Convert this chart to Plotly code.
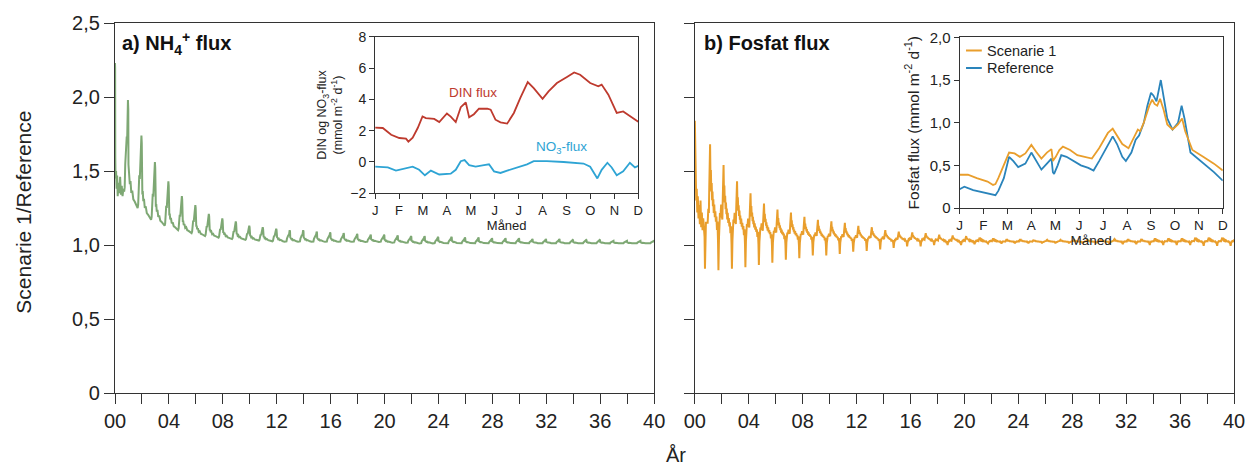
import numpy as np
import plotly.graph_objects as go

# ---------------- data ----------------
# Main panel a: NH4+ ratio (Scenarie 1 / Reference), yearly spike peak and base level
nh4_peak = [1.98, 1.74, 1.56, 1.43, 1.33, 1.27, 1.21, 1.18, 1.16, 1.13,
            1.12, 1.11, 1.10, 1.10, 1.09, 1.085, 1.08, 1.075, 1.07, 1.07,
            1.065, 1.06, 1.06, 1.055, 1.055, 1.05, 1.05, 1.045, 1.045, 1.045,
            1.04, 1.04, 1.04, 1.035, 1.035, 1.035, 1.03, 1.03, 1.03, 1.03]
nh4_base = [1.36, 1.25, 1.17, 1.13, 1.10, 1.08, 1.06, 1.05, 1.04, 1.035,
            1.03, 1.025, 1.02, 1.02, 1.02, 1.02, 1.02, 1.02, 1.02, 1.02,
            1.015, 1.015, 1.01, 1.01, 1.01, 1.01, 1.01, 1.01, 1.01, 1.01,
            1.01, 1.01, 1.01, 1.01, 1.01, 1.01, 1.01, 1.01, 1.01, 1.01]
# first-year values (start-up transient)
nh4_y0_t = [0.0, 0.01, 0.02, 0.04, 0.08, 0.12, 0.16, 0.20, 0.26, 0.32, 0.38, 0.44, 0.50, 0.56, 0.62, 0.68]
nh4_y0_v = [2.23, 2.2, 1.6, 1.45, 1.5, 1.38, 1.47, 1.33, 1.42, 1.35, 1.46, 1.34, 1.40, 1.33, 1.38, 1.36]
# typical within-year shape of one NH4 cycle (phase, share of previous spike, share of current spike)
nh4_phase = [0.00, 0.03, 0.06, 0.10, 0.15, 0.21, 0.28, 0.36, 0.46, 0.58, 0.68, 0.72, 0.76, 0.80, 0.84, 0.87, 0.90, 0.93, 0.96, 0.985]
nh4_prev  = [0.40, 0.30, 0.34, 0.22, 0.25, 0.14, 0.16, 0.08, 0.06, 0.02, 0.0, 0.0, 0.0, 0.0, 0.0, 0.0, 0.0, 0.0, 0.0, 0.0]
nh4_curr  = [0.0, 0.0, 0.0, 0.0, 0.0, 0.0, 0.0, 0.0, 0.0, 0.0, 0.0, 0.05, 0.3, 0.45, 0.4, 0.6, 0.55, 0.85, 1.0, 0.9]

# Main panel b: phosphate ratio, yearly spike, plateau and trough level
p_peak = [1.84, 1.68, 1.54, 1.43, 1.35, 1.28, 1.24, 1.22, 1.19, 1.17,
          1.16, 1.15, 1.13, 1.12, 1.10, 1.09, 1.085, 1.08, 1.07, 1.065,
          1.06, 1.05, 1.045, 1.04, 1.04, 1.035, 1.035, 1.035, 1.035, 1.035,
          1.035, 1.04, 1.04, 1.04, 1.045, 1.045, 1.045, 1.05, 1.05, 1.05]
p_mid = [1.15, 1.10, 1.08, 1.07, 1.06, 1.05, 1.045, 1.04, 1.04, 1.035,
         1.035, 1.03, 1.03, 1.03, 1.025, 1.025, 1.025, 1.025, 1.02, 1.02,
         1.02, 1.02, 1.02, 1.02, 1.02, 1.02, 1.02, 1.02, 1.02, 1.02,
         1.02, 1.02, 1.02, 1.02, 1.02, 1.02, 1.02, 1.02, 1.02, 1.02]
p_trough = [0.84, 0.83, 0.84, 0.85, 0.865, 0.88, 0.90, 0.91, 0.93, 0.93,
            0.94, 0.955, 0.96, 0.97, 0.98, 0.99, 0.99, 1.0, 1.0, 1.0,
            1.005, 1.01, 1.01, 1.012, 1.012, 1.012, 1.012, 1.012, 1.012, 1.012,
            1.005, 1.005, 1.005, 1.0, 1.0, 1.0, 1.0, 0.995, 0.995, 0.995]
p_y0_t = [0.0, 0.01, 0.03, 0.06, 0.10, 0.14, 0.18, 0.22, 0.27, 0.32, 0.37, 0.42, 0.47, 0.52, 0.57, 0.62, 0.67, 0.70]
p_y0_v = [1.84, 1.75, 1.6, 1.52, 1.3, 1.38, 1.22, 1.33, 1.18, 1.27, 1.14, 1.3, 1.12, 1.22, 1.1, 1.18, 1.06, 1.12]
# typical within-year shape of one phosphate cycle (phase, share of spike, share of trough)
p_phase = [0.00, 0.04, 0.07, 0.10, 0.13, 0.16, 0.19, 0.22, 0.25, 0.28, 0.31, 0.34, 0.37, 0.40, 0.44,
           0.48, 0.52, 0.56, 0.60, 0.64, 0.68, 0.72, 0.75, 0.77, 0.79, 0.82, 0.86, 0.90, 0.95]
p_up    = [0.25, 0.2, 0.5, 0.85, 1.0, 0.6, 0.7, 0.45, 0.55, 0.35, 0.45, 0.28, 0.36, 0.2, 0.3,
           0.15, 0.22, 0.1, 0.16, 0.05, 0.1, 0.0, 0.0, 0.0, 0.0, 0.1, 0.2, 0.15, 0.3]
p_down  = [0.0, 0.0, 0.0, 0.0, 0.0, 0.0, 0.0, 0.0, 0.0, 0.0, 0.0, 0.0, 0.0, 0.0, 0.0,
           0.0, 0.0, 0.0, 0.0, 0.1, 0.0, 0.3, 1.0, 0.6, 0.2, 0.0, 0.0, 0.0, 0.0]

# Inset a: DIN and NO3 flux (mmol m-2 d-1), month index 0=J .. 11=D
din_m = [0, 0.32, 0.67, 1.01, 1.29, 1.39, 1.57, 1.78, 1.98, 2.12, 2.47, 2.68, 3.0, 3.16, 3.37, 3.58, 3.79,
         3.93, 4.13, 4.34, 4.69, 4.83, 5.03, 5.24, 5.52, 5.8, 6.07, 6.38, 6.63, 7.0, 7.25, 7.6, 8.02, 8.32,
         8.57, 8.99, 9.33, 9.47, 9.75, 10.1, 10.37, 10.58, 11.0]
din_v = [2.2, 2.17, 1.74, 1.53, 1.49, 1.3, 1.55, 2.17, 2.91, 2.8, 2.75, 2.55, 3.1, 2.9, 2.55, 3.5, 3.8,
         2.85, 3.05, 3.4, 3.4, 3.34, 2.7, 2.53, 2.45, 3.13, 4.09, 5.1, 4.72, 4.04, 4.51, 5.04, 5.43, 5.72,
         5.57, 5.04, 4.83, 4.94, 4.3, 3.13, 3.23, 3.02, 2.57]
no3_m = [0, 0.53, 0.87, 1.15, 1.57, 1.84, 2.08, 2.33, 2.68, 3.16, 3.37, 3.58, 3.74, 3.93, 4.2, 4.55, 4.76,
         4.97, 5.24, 5.52, 5.94, 6.35, 6.63, 7.18, 7.88, 8.29, 8.71, 8.99, 9.29, 9.47, 9.71, 9.89, 10.1,
         10.37, 10.65, 10.86, 11.0]
no3_v = [-0.3, -0.35, -0.55, -0.45, -0.3, -0.5, -0.85, -0.55, -0.8, -0.75, -0.5, 0.05, 0.12, -0.2, -0.3,
         -0.2, -0.15, -0.6, -0.7, -0.55, -0.35, -0.15, 0.05, 0.05, 0.0, -0.05, -0.1, -0.3, -1.05, -0.5,
         -0.05, -0.35, -0.85, -0.6, -0.05, -0.35, -0.25]

# Inset b: phosphate flux (mmol m-2 d-1)
sc1_m = [0, 0.35, 0.72, 1.17, 1.4, 1.5, 1.62, 1.85, 2.07, 2.3, 2.52, 2.75, 3.0, 3.2, 3.42, 3.65, 3.84, 3.9,
         4.02, 4.17, 4.32, 4.62, 4.92, 5.23, 5.53, 5.83, 6.2, 6.4, 6.58, 6.8, 7.06, 7.25, 7.45, 7.55, 7.7,
         7.93, 8.05, 8.15, 8.26, 8.38, 8.53, 8.68, 8.9, 9.13, 9.3, 9.43, 9.73, 10.18, 10.63, 11.0]
sc1_v = [0.39, 0.39, 0.35, 0.31, 0.27, 0.28, 0.35, 0.5, 0.65, 0.64, 0.6, 0.64, 0.74, 0.66, 0.58, 0.65, 0.69,
         0.55, 0.6, 0.68, 0.72, 0.68, 0.62, 0.6, 0.58, 0.7, 0.88, 0.93, 0.85, 0.75, 0.7, 0.8, 0.92, 0.9, 1.0,
         1.2, 1.27, 1.22, 1.2, 1.28, 1.15, 0.98, 0.92, 0.98, 1.05, 0.9, 0.68, 0.6, 0.52, 0.44]
ref_m = [0, 0.2, 0.57, 1.02, 1.4, 1.5, 1.62, 1.85, 2.07, 2.25, 2.45, 2.75, 3.0, 3.2, 3.42, 3.65, 3.84, 3.9,
         3.95, 4.1, 4.25, 4.47, 4.77, 5.07, 5.38, 5.6, 5.83, 6.13, 6.4, 6.58, 6.8, 6.95, 7.18, 7.36, 7.5,
         7.7, 7.85, 8.0, 8.1, 8.23, 8.35, 8.41, 8.53, 8.68, 8.9, 9.13, 9.28, 9.4, 9.65, 10.18, 10.63, 11.0]
ref_v = [0.22, 0.25, 0.21, 0.18, 0.15, 0.15, 0.2, 0.35, 0.6, 0.55, 0.48, 0.52, 0.65, 0.55, 0.45, 0.52, 0.58,
         0.42, 0.4, 0.5, 0.62, 0.6, 0.55, 0.5, 0.47, 0.44, 0.55, 0.7, 0.84, 0.75, 0.6, 0.55, 0.65, 0.8, 0.85,
         1.0, 1.2, 1.35, 1.32, 1.25, 1.45, 1.5, 1.3, 1.05, 0.92, 1.0, 1.2, 1.05, 0.65, 0.53, 0.42, 0.32]

year_ticks = list(range(0, 41, 2))
year_labels = [f"{y:02d}" if y % 4 == 0 else "" for y in year_ticks]
ratio_ticks = [0, 0.5, 1.0, 1.5, 2.0, 2.5]
ratio_labels = ["0", "0,5", "1,0", "1,5", "2,0", "2,5"]
month_labels = ["J", "F", "M", "A", "M", "J", "J", "A", "S", "O", "N", "D"]
din_ticks = [-2, 0, 2, 4, 6, 8]
fos_ticks = [0, 0.5, 1.0, 1.5, 2.0]
fos_labels = ["0", "0,5", "1,0", "1,5", "2,0"]

# ---------------- build yearly series ----------------
nyears = len(nh4_peak)
g_t = list(nh4_y0_t)
g_v = list(nh4_y0_v)
for n in range(nyears):
    B = nh4_base[n]
    P = nh4_peak[n]
    Pp = nh4_peak[n - 1] if n > 0 else B
    for ph, wp, wc in zip(nh4_phase, nh4_prev, nh4_curr):
        if n == 0 and ph <= nh4_y0_t[-1]:
            continue
        g_t.append(n + ph)
        g_v.append(B + wp * (Pp - B) + wc * (P - B))
g_t.append(nyears)
g_v.append(nh4_base[-1] + nh4_prev[0] * (nh4_peak[-1] - nh4_base[-1]))

o_t = list(p_y0_t)
o_v = list(p_y0_v)
for n in range(nyears):
    P, M, T = p_peak[n], p_mid[n], p_trough[n]
    for ph, u, d in zip(p_phase, p_up, p_down):
        if n == 0 and ph <= p_y0_t[-1]:
            continue
        if n == 0 and u > 0:
            u = 0.0
        o_t.append(n + ph)
        o_v.append(M + u * (P - M) - d * (M - T))
o_t.append(nyears)
o_v.append(p_mid[-1])

# ---------------- figure ----------------
GREEN = "#7ea874"
ORANGE = "#e99e2c"
RED = "#be3a2e"
CYAN = "#2ea4d4"
BLUE = "#2a84bb"
FONT = "Arial, Liberation Sans, sans-serif"

fig = go.Figure()
fig.add_trace(go.Scatter(x=g_t, y=g_v, mode="lines", line=dict(color=GREEN, width=2),
                         xaxis="x", yaxis="y", showlegend=False))
fig.add_trace(go.Scatter(x=o_t, y=o_v, mode="lines", line=dict(color=ORANGE, width=2),
                         xaxis="x2", yaxis="y2", showlegend=False))
fig.add_trace(go.Scatter(x=din_m, y=din_v, mode="lines", line=dict(color=RED, width=1.8),
                         xaxis="x3", yaxis="y3", showlegend=False))
fig.add_trace(go.Scatter(x=no3_m, y=no3_v, mode="lines", line=dict(color=CYAN, width=1.8),
                         xaxis="x3", yaxis="y3", showlegend=False))
fig.add_trace(go.Scatter(x=ref_m, y=ref_v, mode="lines", line=dict(color=BLUE, width=1.8),
                         xaxis="x4", yaxis="y4", showlegend=False))
fig.add_trace(go.Scatter(x=sc1_m, y=sc1_v, mode="lines", line=dict(color=ORANGE, width=1.8),
                         xaxis="x4", yaxis="y4", showlegend=False))

main_x = dict(range=[0, 40], tickmode="array", tickvals=year_ticks, ticktext=year_labels,
              ticks="outside", ticklen=10, tickwidth=1.2, tickcolor="#333",
              showline=True, linecolor="#333", linewidth=1.2, mirror=True,
              showgrid=False, zeroline=False, tickfont=dict(size=20, color="#222"))
main_y = dict(range=[0, 2.5], tickmode="array", tickvals=ratio_ticks, ticktext=ratio_labels,
              ticks="outside", ticklen=10, tickwidth=1.2, tickcolor="#333",
              showline=True, linecolor="#333", linewidth=1.2, mirror=True,
              showgrid=False, zeroline=False, tickfont=dict(size=20, color="#222"))


def inset_x(size):
    return dict(range=[0, 11], tickmode="array", tickvals=list(range(12)), ticktext=month_labels,
                ticks="outside", ticklen=5, tickwidth=1, tickcolor="#333",
                showline=True, linecolor="#333", linewidth=1, mirror=True,
                showgrid=False, zeroline=False, tickfont=dict(size=size, color="#222"),
                title=dict(text="Måned", font=dict(size=size, color="#222"), standoff=1))


W, H = 1257, 465
L, R, T, B = 115, 15, 23, 72
pw, ph = W - L - R, H - T - B
px = lambda x: (x - L) / pw
py = lambda y: (H - B - y) / ph

fig.update_layout(
    width=W, height=H, autosize=False,
    margin=dict(l=L, r=R, t=T, b=B),
    paper_bgcolor="white", plot_bgcolor="white",
    font=dict(family=FONT, color="#222"),
    xaxis=dict(main_x, domain=[0, px(658)], anchor="y"),
    yaxis=dict(main_y, domain=[0, 1], anchor="x"),
    xaxis2=dict(main_x, domain=[px(699), 1], anchor="y2"),
    yaxis2=dict(main_y, domain=[0, 1], anchor="x2", showticklabels=False),
    xaxis3=dict(inset_x(13), domain=[px(377), px(642)], anchor="y3"),
    yaxis3=dict(range=[-2, 8], tickmode="array", tickvals=din_ticks,
                ticks="outside", ticklen=5, tickwidth=1, tickcolor="#333",
                showline=True, linecolor="#333", linewidth=1, mirror=True,
                showgrid=False, zeroline=False, tickfont=dict(size=14, color="#222"),
                domain=[py(193.3), py(36.7)], anchor="x3",
                title=dict(text="DIN og NO<sub>3</sub>-flux<br>(mmol m<sup>-2</sup> d<sup>-1</sup>)",
                           font=dict(size=12.5, color="#222"), standoff=4)),
    xaxis4=dict(inset_x(13.5), domain=[px(965.6), px(1230.7)], anchor="y4"),
    yaxis4=dict(range=[0, 2.0], tickmode="array", tickvals=fos_ticks, ticktext=fos_labels,
                ticks="outside", ticklen=5, tickwidth=1, tickcolor="#333",
                showline=True, linecolor="#333", linewidth=1, mirror=True,
                showgrid=False, zeroline=False, tickfont=dict(size=15, color="#222"),
                domain=[py(208), py(37.4)], anchor="x4",
                title=dict(text="Fosfat flux (mmol m<sup>-2</sup> d<sup>-1</sup>)",
                           font=dict(size=15.5, color="#222"), standoff=6)),
    showlegend=False,
)

ann = []
ann.append(dict(text="Scenarie 1/Reference", xref="paper", yref="paper", x=px(22), y=py(212),
                textangle=-90, showarrow=False, font=dict(size=21, color="#222"),
                xanchor="center", yanchor="middle"))
ann.append(dict(text="År", xref="paper", yref="paper", x=px(680), y=py(455),
                showarrow=False, font=dict(size=20, color="#222"), xanchor="center", yanchor="middle"))
ann.append(dict(text="<b>a) NH<sub>4</sub><sup>+</sup> flux</b>", xref="paper", yref="paper",
                x=px(120), y=py(43), showarrow=False, font=dict(size=20, color="#111"),
                xanchor="left", yanchor="middle"))
ann.append(dict(text="<b>b) Fosfat flux</b>", xref="paper", yref="paper",
                x=px(706), y=py(43), showarrow=False, font=dict(size=20, color="#111"),
                xanchor="left", yanchor="middle"))
ann.append(dict(text="DIN flux", xref="x3", yref="y3", x=4.1, y=4.45, showarrow=False,
                font=dict(size=13.5, color=RED), xanchor="center", yanchor="middle"))
ann.append(dict(text="NO<sub>3</sub>-flux", xref="x3", yref="y3", x=7.8, y=0.93, showarrow=False,
                font=dict(size=13.5, color=CYAN), xanchor="center", yanchor="middle"))
ann.append(dict(text="Scenarie 1", xref="x4", yref="y4", x=1.05, y=1.845, showarrow=False,
                font=dict(size=14.5, color="#222"), xanchor="left", yanchor="middle"))
ann.append(dict(text="Reference", xref="x4", yref="y4", x=1.05, y=1.64, showarrow=False,
                font=dict(size=14.5, color="#222"), xanchor="left", yanchor="middle"))
fig.update_layout(annotations=ann)

fig.add_shape(type="line", xref="x4", yref="y4", x0=0.27, x1=0.93, y0=1.845, y1=1.845,
              line=dict(color=ORANGE, width=2))
fig.add_shape(type="line", xref="x4", yref="y4", x0=0.27, x1=0.93, y0=1.64, y1=1.64,
              line=dict(color=BLUE, width=2))

fig.write_html("out.html")
